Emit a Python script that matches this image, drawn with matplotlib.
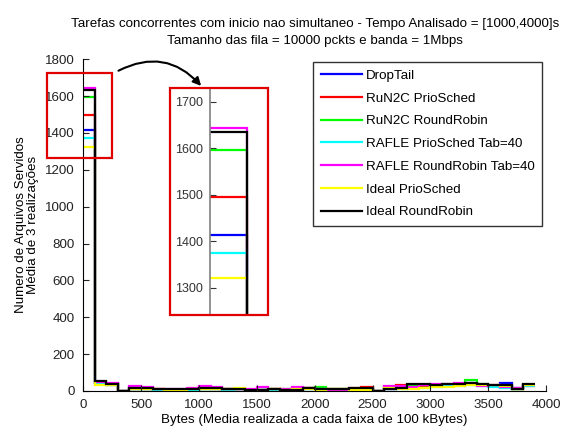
import numpy as np
import matplotlib
matplotlib.use("Agg")
import matplotlib.pyplot as plt
from matplotlib.patches import Rectangle

plt.rcParams['font.family'] = ['Liberation Sans', 'DejaVu Sans']

edges = np.arange(0, 4000, 100)  # 0..3900

series_labels = ["DropTail", "RuN2C PrioSched", "RuN2C RoundRobin",
                 "RAFLE PrioSched Tab=40", "RAFLE RoundRobin Tab=40",
                 "Ideal PrioSched", "Ideal RoundRobin"]
series_colors = ["#0000ff", "#ff0000", "#00ff00", "#00ffff", "#ff00ff", "#ffff00", "#000000"]

droptail = [1414, 42, 36, 0, 12, 10, 6, 5, 4, 6, 12, 10, 6, 8, 2, 4, 6, 2, 3, 12, 8,
            6, 5, 8, 10, 0, 12, 15, 20, 24, 28, 30, 32, 42, 30, 28, 42, 15, 30]
run2c_prio = [1496, 42, 35, 0, 12, 10, 8, 6, 5, 8, 15, 12, 8, 10, 4, 6, 8, 5, 6, 15, 10,
              8, 12, 18, 22, 0, 20, 32, 30, 28, 30, 35, 38, 40, 32, 25, 20, 12, 28]
run2c_rr = [1595, 45, 38, 0, 10, 8, 4, 2, 0, 5, 12, 10, 8, 10, 3, 5, 8, 8, 5, 15, 20,
            10, 8, 10, 12, 0, 18, 22, 35, 30, 28, 32, 35, 58, 40, 25, 28, 12, 35]
rafle_prio = [1374, 40, 32, 0, 10, 8, 6, 4, 3, 5, 10, 8, 5, 8, 0, 3, 5, 2, 3, 10, 8,
              5, 2, 5, 8, 0, 8, 10, 15, 18, 22, 25, 28, 30, 25, 20, 18, 10, 28]
rafle_rr = [1644, 48, 45, 0, 25, 22, 12, 10, 12, 14, 25, 20, 10, 8, 8, 20, 12, 10, 22, 15, 10,
            5, 5, 8, 5, 0, 28, 25, 20, 30, 36, 40, 42, 38, 28, 30, 22, 18, 30]
ideal_prio = [1322, 35, 30, 0, 10, 12, 8, 5, 5, 8, 10, 12, 8, 15, 2, 0, 10, 5, 10, 12, 5,
              10, 8, 5, 5, 0, 15, 10, 12, 15, 20, 22, 28, 30, 32, 35, 25, 10, 35]
ideal_rr = [1634, 55, 40, 0, 14, 15, 10, 8, 8, 10, 18, 15, 10, 12, 5, 5, 8, 5, 5, 18, 12,
            8, 10, 15, 15, 0, 12, 18, 38, 36, 32, 36, 36, 45, 36, 32, 30, 10, 40]

all_series = [droptail, run2c_prio, run2c_rr, rafle_prio, rafle_rr, ideal_prio, ideal_rr]

x_ticks = np.arange(0, 4001, 500)
y_ticks = np.arange(0, 1801, 200)
inset_ticks = [1300, 1400, 1500, 1600, 1700]

FS = 9.6

fig = plt.figure(figsize=(5.62, 4.32), dpi=100)
ax = fig.add_axes([0.148, 0.095, 0.824, 0.768])

for vals, lab, col in zip(all_series, series_labels, series_colors):
    ax.stairs(vals, edges, color=col, lw=1.6, label=lab, baseline=None)

ax.set_xlim(0, 4000)
ax.set_ylim(0, 1800)
ax.set_xticks(x_ticks)
ax.set_yticks(y_ticks)
ax.spines['top'].set_visible(False)
ax.spines['right'].set_visible(False)
ax.tick_params(direction='in', labelsize=FS, length=4, colors='#222222')
ax.tick_params(axis='y', pad=6)
ax.tick_params(axis='x', pad=6)
ax.set_xlabel("Bytes (Media realizada a cada faixa de 100 kBytes)", fontsize=FS)
ax.xaxis.set_label_coords(0.5, -0.07)
ax.set_ylabel("Numero de Arquivos Servidos\nMédia de 3 realizações", fontsize=FS,
              linespacing=1.05)
ax.yaxis.set_label_coords(-0.095, 0.5)
ax.set_title("Tarefas concorrentes com inicio nao simultaneo - Tempo Analisado = [1000,4000]s\n"
             "Tamanho das fila = 10000 pckts e banda = 1Mbps", fontsize=FS, pad=11, linespacing=1.6)

leg = ax.legend(loc='upper right', bbox_to_anchor=(0.991, 0.991), fontsize=9.6,
                frameon=True, fancybox=False, edgecolor='black', handlelength=3.1,
                handletextpad=0.3, labelspacing=0.78, borderpad=0.55, borderaxespad=0)
leg.get_frame().set_linewidth(1.0)
for h in leg.get_lines():
    h.set_linewidth(1.6)

# inset
axi = fig.add_axes([0.3025, 0.2708, 0.1744, 0.5255])
for vals, col in zip(all_series, series_colors):
    axi.stairs(vals, edges, color=col, lw=1.6, baseline=None)
axi.set_xlim(-108, 157)
axi.set_ylim(1242, 1729)
axi.set_yticks(inset_ticks)
axi.set_xticks([])
for s in ['top', 'right', 'bottom']:
    axi.spines[s].set_visible(False)
axi.spines['left'].set_position(('data', 0))
axi.spines['left'].set_color('#808080')
axi.spines['left'].set_linewidth(1.2)
axi.tick_params(axis='y', direction='in', labelsize=9, length=4, colors='#333333', pad=5)
axi.patch.set_alpha(0)

# red boxes
fig.patches.append(Rectangle((0.3025, 0.2708), 0.1744, 0.5255, transform=fig.transFigure,
                             fill=False, edgecolor='#e00000', lw=1.6, zorder=10))
fig.patches.append(Rectangle((0.0836, 0.634), 0.1157, 0.1968, transform=fig.transFigure,
                             fill=False, edgecolor='#e00000', lw=1.6, zorder=10))

ax.annotate("", xy=(203/562, 1-88/432), xycoords='figure fraction',
            xytext=(116/562, 1-72/432), textcoords='figure fraction',
            arrowprops=dict(arrowstyle='-|>', color='black', lw=1.5,
                            connectionstyle='arc3,rad=-0.4', mutation_scale=12))

fig.savefig("out.png", dpi=100)
